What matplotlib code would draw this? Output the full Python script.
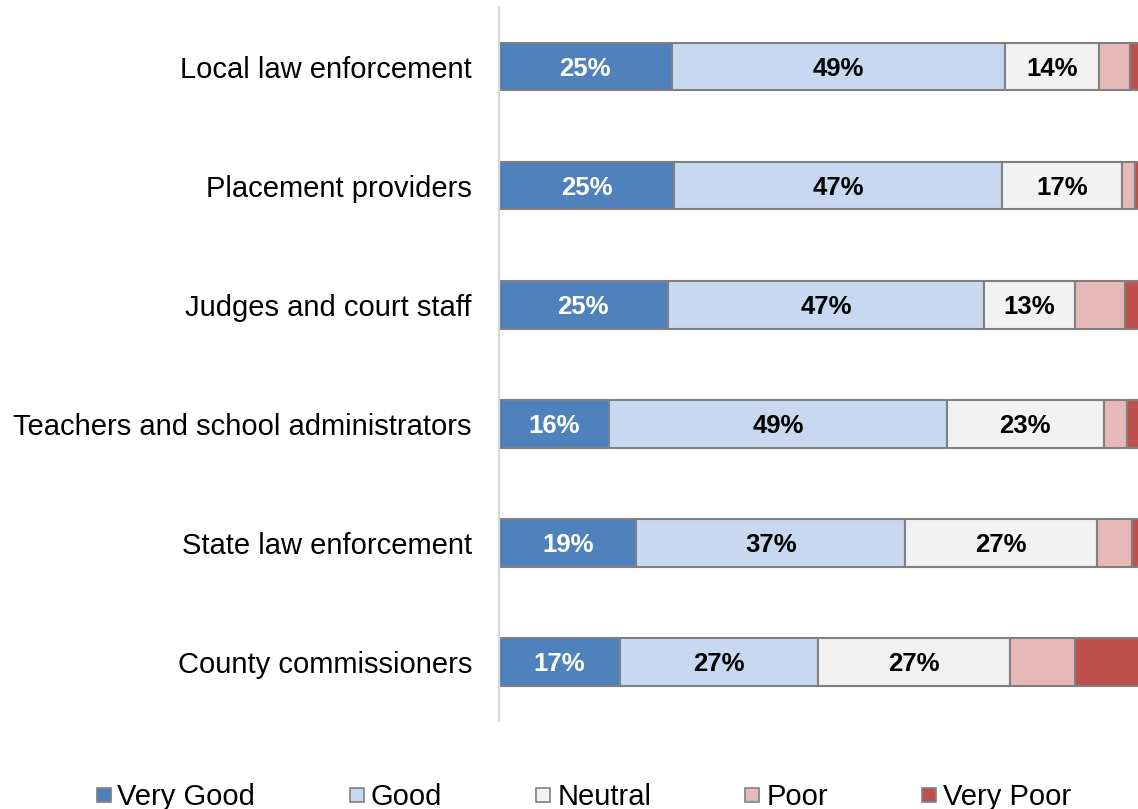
import matplotlib
matplotlib.use("Agg")
import matplotlib.pyplot as plt
from matplotlib.lines import Line2D
import numpy as np

plt.rcParams['font.family'] = ['Liberation Sans', 'DejaVu Sans']

# Ratings by partner group (percent of respondents)
categories = [
    "Local law enforcement",
    "Placement providers",
    "Judges and court staff",
    "Teachers and school administrators",
    "State law enforcement",
    "County commissioners",
]
series_names = ["Very Good", "Good", "Neutral", "Poor", "Very Poor"]
very_good = [25.3, 25.0, 25.0, 16.0, 19.1, 16.8]
good = [48.9, 47.0, 47.0, 49.0, 37.3, 27.4]
neutral = [13.7, 17.1, 13.4, 22.8, 26.7, 26.6]
poor = [4.5, 1.8, 7.5, 3.4, 4.8, 9.0]
very_poor = [4.3, 3.5, 5.0, 4.6, 3.8, 11.7]

colors = ["#4F81BD", "#C6D9F1", "#F2F2F2", "#E6B9B8", "#C0504D"]
label_colors = ["white", "black", "black", "black", "black"]

data = np.array([very_good, good, neutral, poor, very_poor])
totals = data.sum(axis=0)
shares = data / totals * 100  # 100% stacked widths

fig = plt.figure(figsize=(11.38, 8.09), dpi=100)
ax = fig.add_axes([0.43849, 0.10816, 0.57996, 0.88319])

y = np.arange(len(categories))
left = np.zeros(len(categories))
for i, name in enumerate(series_names):
    bars = ax.barh(y, shares[i], left=left, height=0.4, color=colors[i],
                   edgecolor="#808080", linewidth=1.5, label=name, zorder=2)
    labels = [f"{v:.0f}%" if v >= 12 else "" for v in data[i]]
    texts = ax.bar_label(bars, labels=labels, label_type="center",
                         color=label_colors[i], fontsize=18.5, fontweight="bold")
    for t in texts:
        t.set_va("center_baseline")
    left += shares[i]

ax.set_xlim(0, 100)
ax.set_ylim(len(categories) - 0.5, -0.5)
ax.set_yticks(y)
ax.set_yticklabels(categories, fontsize=21, color="black")
ax.tick_params(axis="y", length=0, pad=19.5)
ax.set_xticks([])
for side in ["top", "right", "bottom"]:
    ax.spines[side].set_visible(False)
ax.spines["left"].set_color("#D9D9D9")
ax.spines["left"].set_linewidth(1.6)
ax.spines["left"].set_zorder(3)

handles = [Line2D([], [], linestyle="", marker="s", markersize=10.5,
                  markerfacecolor=c, markeredgecolor="#808080", markeredgewidth=1.2)
           for c in colors]
fig.legend(handles, series_names, loc="center", bbox_to_anchor=(0.5127, 0.015),
           bbox_transform=fig.transFigure, ncol=5, frameon=False, fontsize=21,
           handlelength=0.55, handletextpad=0.2, columnspacing=3.2,
           borderaxespad=0, borderpad=0)

fig.savefig("out.png", dpi=100)
